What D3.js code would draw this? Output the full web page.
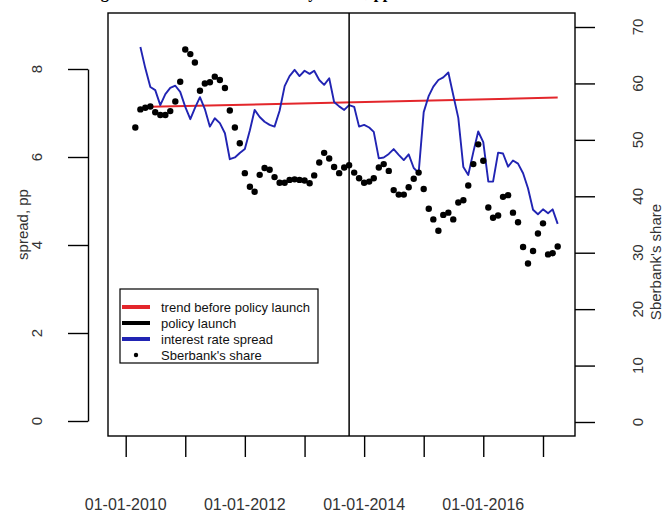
<!DOCTYPE html>
<html>
<head>
<meta charset="utf-8">
<script src="https://cdn.jsdelivr.net/npm/d3@7/dist/d3.min.js"></script>
<style>
  html, body { margin: 0; padding: 0; background: #fff; }
  svg { display: block; }
  text { font-family: "Liberation Sans", Arial, sans-serif; }
</style>
</head>
<body>
<svg id="chart" width="668" height="514"></svg>
<script>
// ---------------- data ----------------
const titleText = "Lending rate and Sberbank's share by month, pp";
const shareStart = "2010-03";      // first month of Sberbank's share series
const shareValues = [
  52.2,55.4,55.7,55.9,54.9,54.4,54.4,55.1,56.8,60.3,
  66.0,65.2,63.7,58.7,60.0,60.2,61.2,60.6,59.2,55.2,
  52.2,49.4,44.1,41.7,40.8,43.8,45.0,44.7,43.4,42.4,
  42.4,42.9,43.0,42.9,42.8,42.3,43.7,46.0,47.7,46.7,
  45.2,44.1,45.1,45.5,44.2,43.2,42.4,42.6,43.2,45.1,
  45.7,44.5,41.1,40.3,40.3,41.6,43.1,44.2,41.3,37.8,
  35.9,33.9,36.7,37.1,35.9,38.9,39.3,41.9,45.7,49.2,
  46.3,38.0,36.2,36.6,39.9,40.2,37.1,35.4,31.0,28.1,
  30.3,33.4,35.2,29.7,29.9,31.1
];
const spreadStart = "2010-04";     // first month of the interest rate spread series
const spreadValues = [
  8.50,8.02,7.59,7.52,7.18,7.43,7.57,7.62,7.48,7.14,
  6.86,7.11,7.36,7.09,6.69,6.88,6.77,6.54,5.95,5.99,
  6.09,6.18,6.61,7.07,6.91,6.80,6.73,6.69,7.05,7.61,
  7.84,7.98,7.84,7.96,7.89,7.96,7.75,7.64,7.79,7.25,
  7.15,7.07,7.18,7.14,6.69,6.73,6.67,6.57,5.97,5.99,
  6.07,6.18,6.05,5.93,6.06,5.75,5.64,7.02,7.39,7.60,
  7.75,7.81,7.92,7.41,6.89,5.77,5.59,6.11,6.58,6.34,
  5.44,5.44,6.10,6.08,5.78,5.92,5.85,5.63,5.29,4.80,
  4.70,4.81,4.72,4.81,4.48
];
const trendDates = ["2010-06", "2017-04"];
const trendValues = [7.14, 7.35];
const policyDate = "2013-10";
const spreadTicks = [0, 2, 4, 6, 8];
const shareTicks = [0, 10, 20, 30, 40, 50, 60, 70];
const yearTicks = [2010, 2011, 2012, 2013, 2014, 2015, 2016, 2017];
const yearLabels = [2010, 2012, 2014, 2016];
const legendLabels = ["trend before policy launch", "policy launch", "interest rate spread", "Sberbank's share"];
const yLabelLeft = "spread, pp";
const yLabelRight = "Sberbank's share";

// ---------------- helpers ----------------
const parseMonth = d3.timeParse("%Y-%m");
function monthSeries(start, values) {
  const s = parseMonth(start);
  return values.map((v, i) => ({ date: d3.timeMonth.offset(s, i), value: v }));
}
const shareData = monthSeries(shareStart, shareValues);
const spreadData = monthSeries(spreadStart, spreadValues);
const trendData = trendDates.map((d, i) => ({ date: parseMonth(d), value: trendValues[i] }));

// ---------------- layout ----------------
const box = { left: 108, right: 575, top: 13, bottom: 436 };
const svg = d3.select("#chart");

const x = d3.scaleTime()
  .domain([new Date(2010, 0, 1), new Date(2017, 0, 1)])
  .range([125.7, 543]);
const yL = d3.scaleLinear().domain([0, 8]).range([421, 69]);
const yR = d3.scaleLinear().domain([0, 70]).range([422, 27]);

const axisColor = "#000";
const labelColor = "#333";

// title (cut off at the top edge, as in the reference: only descenders show)
const title = svg.append("text")
  .attr("y", -2)
  .style("font-family", "'Liberation Serif', 'Times New Roman', serif")
  .attr("font-weight", "bold")
  .attr("font-size", 17)
  .attr("fill", "#000")
  .text(titleText);
(function placeTitle() {
  const node = title.node();
  const gi = titleText.indexOf("g");
  const toG = node.getSubStringLength(0, gi) + node.getSubStringLength(gi, 1) / 2;
  const total = node.getComputedTextLength();
  const factor = (392 - 105) / (total - toG);
  title.attr("font-size", 17 * factor);
  title.attr("x", 105 - toG * factor);
})();

// plot box
svg.append("rect")
  .attr("x", box.left).attr("y", box.top)
  .attr("width", box.right - box.left).attr("height", box.bottom - box.top)
  .attr("fill", "none").attr("stroke", axisColor).attr("stroke-width", 1.4);

// left axis (offset from box)
const gL = svg.append("g").attr("transform", "translate(88,0)")
  .call(d3.axisLeft(yL).tickValues(spreadTicks).tickSize(20).tickSizeOuter(0).tickFormat(""));
gL.selectAll("path, line").attr("stroke", axisColor).attr("stroke-width", 1.4);
gL.selectAll("text").remove();
svg.append("g").selectAll("text").data(spreadTicks).join("text")
  .attr("transform", d => `translate(42,${yL(d)}) rotate(-90)`)
  .attr("text-anchor", "middle")
  .attr("font-size", 15)
  .attr("fill", labelColor)
  .text(d => d);
svg.append("text")
  .attr("transform", `translate(28,${(box.top + box.bottom) / 2}) rotate(-90)`)
  .attr("text-anchor", "middle")
  .attr("font-size", 15)
  .attr("fill", labelColor)
  .text(yLabelLeft);

// right axis
const gR = svg.append("g").attr("transform", `translate(${box.right},0)`)
  .call(d3.axisRight(yR).tickValues(shareTicks).tickSize(20).tickSizeOuter(0).tickFormat(""));
gR.select("path.domain").remove();
gR.selectAll("line").attr("stroke", axisColor).attr("stroke-width", 1.4);
svg.append("g").selectAll("text").data(shareTicks).join("text")
  .attr("transform", d => `translate(643,${yR(d)}) rotate(-90)`)
  .attr("text-anchor", "middle")
  .attr("font-size", 15)
  .attr("fill", labelColor)
  .text(d => d);
svg.append("text")
  .attr("transform", `translate(661,262) rotate(-90)`)
  .attr("text-anchor", "middle")
  .attr("font-size", 15)
  .attr("fill", labelColor)
  .text(yLabelRight);

// bottom axis
const yearDates = yearTicks.map(yv => new Date(yv, 0, 1));
const gB = svg.append("g").attr("transform", `translate(0,${box.bottom})`)
  .call(d3.axisBottom(x).tickValues(yearDates).tickSize(21).tickSizeOuter(0).tickFormat(""));
gB.select("path.domain").remove();
gB.selectAll("line").attr("stroke", axisColor).attr("stroke-width", 1.4);
const fmt = d3.timeFormat("%d-%m-%Y");
svg.append("g").selectAll("text").data(yearLabels).join("text")
  .attr("x", d => x(new Date(d, 0, 1)))
  .attr("y", 510)
  .attr("text-anchor", "middle")
  .attr("font-size", 16)
  .attr("fill", labelColor)
  .text(d => fmt(new Date(d, 0, 1)));

// trend line
svg.append("path")
  .datum(trendData)
  .attr("fill", "none")
  .attr("stroke", "#e3262b")
  .attr("stroke-width", 2)
  .attr("d", d3.line().x(d => x(d.date)).y(d => yL(d.value)));

// spread line
svg.append("path")
  .datum(spreadData)
  .attr("fill", "none")
  .attr("stroke", "#2124b3")
  .attr("stroke-width", 1.9)
  .attr("stroke-linejoin", "round")
  .attr("d", d3.line().x(d => x(d.date)).y(d => yL(d.value)));

// share points
svg.append("g").selectAll("circle").data(shareData).join("circle")
  .attr("cx", d => x(d.date))
  .attr("cy", d => yR(d.value))
  .attr("r", 3.2)
  .attr("fill", "#000");

// policy launch vertical line
const px = x(parseMonth(policyDate));
svg.append("line")
  .attr("x1", px).attr("x2", px)
  .attr("y1", box.top).attr("y2", box.bottom)
  .attr("stroke", "#000").attr("stroke-width", 1.5);

// legend
const lg = svg.append("g");
lg.append("rect")
  .attr("x", 120).attr("y", 289).attr("width", 198).attr("height", 74)
  .attr("fill", "#fff").attr("stroke", "#000").attr("stroke-width", 1.2);
const legendColors = ["#e3262b", "#000", "#2124b3", null];
legendLabels.forEach((lab, i) => {
  const cy = 307 + i * 16;
  if (legendColors[i]) {
    lg.append("line")
      .attr("x1", 122).attr("x2", 150).attr("y1", cy).attr("y2", cy)
      .attr("stroke", legendColors[i]).attr("stroke-width", 4);
  } else {
    lg.append("circle").attr("cx", 136).attr("cy", cy).attr("r", 2.2).attr("fill", "#000");
  }
  lg.append("text")
    .attr("x", 161).attr("y", cy + 4.5)
    .attr("font-size", 13)
    .attr("fill", "#111")
    .text(lab);
});
</script>
</body>
</html>
